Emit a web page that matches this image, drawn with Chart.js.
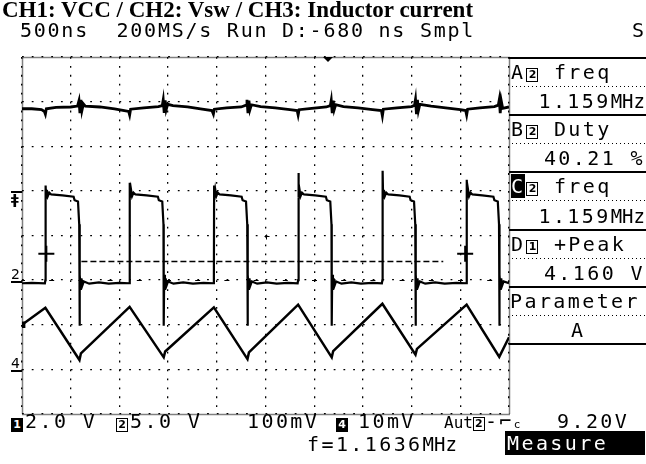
<!DOCTYPE html>
<html>
<head>
<meta charset="utf-8">
<script src="https://cdn.jsdelivr.net/npm/chart.js@4.4.0/dist/chart.umd.min.js"></script>
<style>
  html, body { margin: 0; padding: 0; background: #fff; }
  #scope { position: relative; width: 646px; height: 464px; overflow: hidden; background: #fff; color: #000; }
  #scope canvas { position: absolute; left: 0; top: 0; }
  .title { position: absolute; left: 2px; top: -2px; font: bold 23px "Liberation Serif", serif; white-space: pre; line-height: 24px; }
  .t { position: absolute; white-space: pre; font-family: "DejaVu Sans Mono", monospace; font-size: 20px; letter-spacing: 2.4px; line-height: 18px; }
  .hd { letter-spacing: 1.75px; }
  .r { right: 1px; }
  .box { display: inline-block; border: 1px solid #000; font: bold 11px "DejaVu Sans", sans-serif; line-height: 12px; width: 10px; height: 12px; text-align: center; letter-spacing: 0; margin: 0 1px 0 1px; vertical-align: 1px; }
  .inv { background: #000; color: #fff; }
  .mhz { letter-spacing: 0; font-size: 19px; }
  .sm { font-size: 16px; letter-spacing: 0; }
  .hline { position: absolute; left: 509px; width: 137px; height: 2px; background: #000; }
  .dline { position: absolute; left: 512px; width: 134px; height: 1px; background: repeating-linear-gradient(90deg, #000 0 1px, transparent 1px 4px); }
  .mk { position: absolute; left: 11px; font: 14px "DejaVu Sans", sans-serif; line-height: 13px; }
</style>
</head>
<body>
<div id="scope">
  <canvas id="wave" width="646" height="464"></canvas>

  <div class="title">CH1: VCC / CH2: Vsw / CH3: Inductor current</div>
  <div class="t hd" style="left:20px; top:21px;">500ns  200MS/s Run D:-680 ns Smpl</div>
  <div class="t" style="left:632px; top:21px;">S</div>
  <div style="position:absolute; left:323px; top:57px; width:0; height:0; border-left:5px solid transparent; border-right:5px solid transparent; border-top:5px solid #000;"></div>

  <div class="mk" style="top:191px; border-top:2px solid #000; width:11px; font-weight:bold;">ǂ</div>
  <div class="mk" style="top:268px; border-bottom:2px solid #000; width:11px;">2</div>
  <div class="mk" style="top:357px; border-bottom:2px solid #000; width:11px;">4</div>

  <div class="hline" style="top:57px;"></div>
  <div class="t" style="left:511px; top:63px;">A<span class="box">2</span> freq</div>
  <div class="dline" style="top:86px;"></div>
  <div class="t r" style="top:92px;">1.159<span class="mhz">MHz</span></div>
  <div class="hline" style="top:114px;"></div>
  <div class="t" style="left:511px; top:120px;">B<span class="box">2</span> Duty</div>
  <div class="dline" style="top:143px;"></div>
  <div class="t r" style="top:149px;">40.21 %</div>
  <div class="hline" style="top:171px;"></div>
  <div class="t" style="left:511px; top:177px;"><span class="inv">C</span><span class="box">2</span> freq</div>
  <div class="dline" style="top:200px;"></div>
  <div class="t r" style="top:207px;">1.159<span class="mhz">MHz</span></div>
  <div class="hline" style="top:229px;"></div>
  <div class="t" style="left:511px; top:235px;">D<span class="box">1</span> +Peak</div>
  <div class="dline" style="top:258px;"></div>
  <div class="t r" style="top:264px;">4.160 V</div>
  <div class="hline" style="top:286px;"></div>
  <div class="t" style="left:510px; top:292px;">Parameter</div>
  <div class="dline" style="top:315px;"></div>
  <div class="t" style="left:571px; top:321px;">A</div>
  <div class="hline" style="top:343px;"></div>

  <div class="t" style="left:11px; top:413px;"><span class="box inv" style="margin:0;">1</span></div>
  <div class="t" style="left:25px; top:412px;">2.0 V</div>
  <div class="t" style="left:116px; top:413px;"><span class="box" style="margin:0;">2</span></div>
  <div class="t" style="left:130px; top:412px;">5.0 V</div>
  <div class="t" style="left:247px; top:412px;">100mV</div>
  <div class="t" style="left:336px; top:413px;"><span class="box inv" style="margin:0;">4</span></div>
  <div class="t" style="left:358px; top:412px;">10mV</div>
  <div class="t" style="left:444px; top:412px;"><span class="sm">Aut</span><span class="box" style="margin:0;">2</span>-⌐<span style="font-size:11px;">c</span></div>
  <div class="t" style="left:557px; top:412px;">9.20V</div>
  <div class="t" style="left:307px; top:435px;">f=1.1636<span class="mhz">MHz</span></div>
  <div class="t inv" style="left:505px; top:431px; width:138px; height:24px; line-height:24px; padding-left:2px;">Measure</div>
</div>

<script>
// scope screen: 10 x 8 divisions, values in divisions (y = 0 at bottom)
var xDivs = [0, 10];
var yDivs = [0, 8];

// CH1: VCC
var ch1 = [
  [0.00,6.84],[0.20,6.84],[0.40,6.82],[0.46,6.78],[0.48,6.72],[0.50,6.84],[0.70,6.87],[1.00,6.88],
  [1.14,6.90],[1.17,7.02],[1.19,6.74],[1.21,7.04],[1.23,6.80],[1.26,6.95],[1.30,6.90],[1.60,6.88],
  [1.90,6.84],[2.10,6.80],[2.19,6.78],[2.21,6.70],[2.23,6.83],[2.50,6.86],[2.80,6.89],[2.88,6.91],
  [2.90,7.04],[2.92,6.75],[2.94,7.03],[2.96,6.82],[2.99,6.94],[3.10,6.91],[3.40,6.88],[3.70,6.83],
  [3.90,6.80],[3.93,6.72],[3.95,6.83],[4.20,6.86],[4.50,6.88],[4.60,6.92],[4.62,7.04],[4.64,6.74],
  [4.66,7.02],[4.68,6.82],[4.71,6.93],[4.90,6.89],[5.20,6.86],[5.50,6.82],[5.65,6.80],[5.67,6.70],
  [5.69,6.82],[5.95,6.85],[6.25,6.88],[6.33,6.91],[6.35,7.03],[6.37,6.74],[6.39,7.02],[6.41,6.82],
  [6.44,6.93],[6.60,6.89],[6.90,6.86],[7.20,6.82],[7.38,6.80],[7.40,6.68],[7.42,6.83],[7.70,6.86],
  [8.00,6.89],[8.06,6.92],[8.08,7.05],[8.10,6.72],[8.12,7.04],[8.14,6.80],[8.17,6.94],[8.40,6.90],
  [8.70,6.86],[9.00,6.82],[9.11,6.80],[9.13,6.70],[9.15,6.83],[9.40,6.86],[9.70,6.89],[9.78,6.92],
  [9.80,7.04],[9.82,6.74],[9.84,7.02],[9.87,6.85],[10.00,6.88]
];

// CH2: Vsw
var ch2 = [
  [0.00,2.93],[0.20,2.94],[0.47,2.93],[0.48,3.00],[0.485,5.12],[0.495,4.85],[0.51,5.02],[0.53,4.88],
  [0.56,4.96],[0.60,4.92],[0.83,4.90],[1.06,4.87],[1.08,4.79],[1.15,4.76],[1.175,4.25],[1.18,1.98],
  [1.19,3.12],[1.205,2.78],[1.22,3.04],[1.24,2.88],[1.27,2.97],[1.38,2.92],[1.58,2.95],[1.78,2.92],[2.00,2.94],
  [2.20,2.93],[2.21,3.00],[2.215,5.18],[2.225,4.85],[2.24,5.02],[2.26,4.88],[2.29,4.96],[2.33,4.92],
  [2.56,4.90],[2.79,4.87],[2.81,4.79],[2.88,4.76],[2.905,4.25],[2.91,1.98],[2.92,3.12],[2.935,2.78],
  [2.95,3.04],[2.97,2.88],[3.00,2.97],[3.11,2.92],[3.31,2.95],[3.51,2.92],[3.73,2.94],
  [3.93,2.93],[3.94,3.00],[3.945,5.12],[3.955,4.85],[3.97,5.02],[3.99,4.88],[4.02,4.96],[4.06,4.92],
  [4.29,4.90],[4.51,4.87],[4.53,4.79],[4.60,4.76],[4.625,4.25],[4.63,1.98],[4.64,3.12],[4.655,2.78],
  [4.67,3.04],[4.69,2.88],[4.72,2.97],[4.83,2.92],[5.03,2.95],[5.23,2.92],[5.46,2.94],
  [5.66,2.93],[5.67,3.00],[5.675,5.40],[5.685,4.85],[5.70,5.02],[5.72,4.88],[5.75,4.96],[5.79,4.92],
  [6.02,4.90],[6.24,4.87],[6.26,4.79],[6.33,4.76],[6.355,4.25],[6.36,1.98],[6.37,3.12],[6.385,2.78],
  [6.40,3.04],[6.42,2.88],[6.45,2.97],[6.56,2.92],[6.76,2.95],[6.96,2.92],[7.19,2.94],
  [7.39,2.93],[7.40,3.00],[7.405,5.45],[7.415,4.85],[7.43,5.02],[7.45,4.88],[7.48,4.96],[7.52,4.92],
  [7.75,4.90],[7.96,4.87],[7.98,4.79],[8.05,4.76],[8.075,4.25],[8.08,1.98],[8.09,3.12],[8.105,2.78],
  [8.12,3.04],[8.14,2.88],[8.17,2.97],[8.28,2.92],[8.48,2.95],[8.68,2.92],[8.92,2.94],
  [9.12,2.93],[9.13,3.00],[9.135,5.25],[9.145,4.85],[9.16,5.02],[9.18,4.88],[9.21,4.96],[9.25,4.92],
  [9.45,4.90],[9.68,4.87],[9.70,4.79],[9.77,4.76],[9.795,4.25],[9.80,1.98],[9.81,3.12],[9.825,2.78],
  [9.84,3.04],[9.86,2.88],[9.89,2.97],[10.00,2.93]
];

// CH3: inductor current
var ch3 = [
  [0.00,2.00],[0.48,2.38],[1.18,1.21],[1.21,1.36],[2.21,2.40],[2.91,1.27],[2.94,1.40],[3.94,2.39],
  [4.63,1.23],[4.66,1.38],[5.67,2.45],[6.36,1.27],[6.39,1.41],[7.40,2.47],[8.08,1.33],[8.11,1.46],
  [9.13,2.45],[9.80,1.28],[10.00,1.72]
];

// measurement cursors and mid level on CH2
var cursors = [[0.50,3.59],[9.10,3.59]];
var midLevel = [[1.22,3.42],[8.65,3.42]];
var ch2Ground = 3;

var scopeFrame = {
  id: 'scopeFrame',
  beforeDatasetsDraw: function(chart) {
    var ctx = chart.ctx, a = chart.chartArea;
    var ys = chart.scales.y, xs = chart.scales.x;
    ctx.save();
    ctx.strokeStyle = '#000';
    ctx.lineWidth = 1.5;
    ctx.setLineDash([1, 1]);
    ctx.strokeRect(Math.round(a.left) + 0.5, Math.round(a.top) + 0.5, Math.round(a.width), Math.round(a.height));
    // ch2 ground marker line
    ctx.lineWidth = 1;
    var gy = Math.round(ys.getPixelForValue(ch2Ground)) + 0.5;
    ctx.setLineDash([5, 24.2]);
    ctx.lineDashOffset = 2;
    ctx.beginPath();
    ctx.moveTo(a.left, gy);
    ctx.lineTo(a.right, gy);
    ctx.stroke();
    // center cross
    ctx.setLineDash([]);
    var cx = Math.round(xs.getPixelForValue(5)) + 0.5, cy = Math.round(ys.getPixelForValue(4)) + 0.5;
    ctx.beginPath();
    ctx.moveTo(cx - 2, cy); ctx.lineTo(cx + 3, cy);
    ctx.moveTo(cx, cy - 2); ctx.lineTo(cx, cy + 3);
    ctx.stroke();
    ctx.restore();
  }
};

new Chart(document.getElementById('wave'), {
  type: 'line',
  data: {
    datasets: [
      { data: ch1, borderColor: '#000', borderWidth: 2.8, pointRadius: 0 },
      { data: ch2, borderColor: '#000', borderWidth: 2.2, pointRadius: 0 },
      { data: ch3, borderColor: '#000', borderWidth: 2.5,
        pointRadius: ch3.map(function(p, i) { return i === 0 ? 3 : 0; }),
        pointStyle: 'rect', pointBackgroundColor: '#000' },
      { data: midLevel, borderColor: '#000', borderWidth: 1.5, borderDash: [6, 3], pointRadius: 0 },
      { data: cursors, showLine: false, borderColor: '#000', borderWidth: 2, pointStyle: 'cross', pointRadius: 8 }
    ]
  },
  options: {
    responsive: false,
    animation: false,
    events: [],
    layout: { padding: { left: 22, top: 57, right: 137, bottom: 50 } },
    plugins: { legend: { display: false }, tooltip: { enabled: false } },
    scales: {
      x: {
        type: 'linear', min: xDivs[0], max: xDivs[1],
        ticks: { display: false, stepSize: 1 },
        grid: { color: '#000', lineWidth: 1.3, drawTicks: false },
        border: { display: false, dash: [1.8, 7.13] }
      },
      y: {
        type: 'linear', min: yDivs[0], max: yDivs[1],
        ticks: { display: false, stepSize: 1 },
        grid: { color: '#000', lineWidth: 1.3, drawTicks: false },
        border: { display: false, dash: [1.8, 7.94] }
      }
    }
  },
  plugins: [scopeFrame]
});
</script>
</body>
</html>
